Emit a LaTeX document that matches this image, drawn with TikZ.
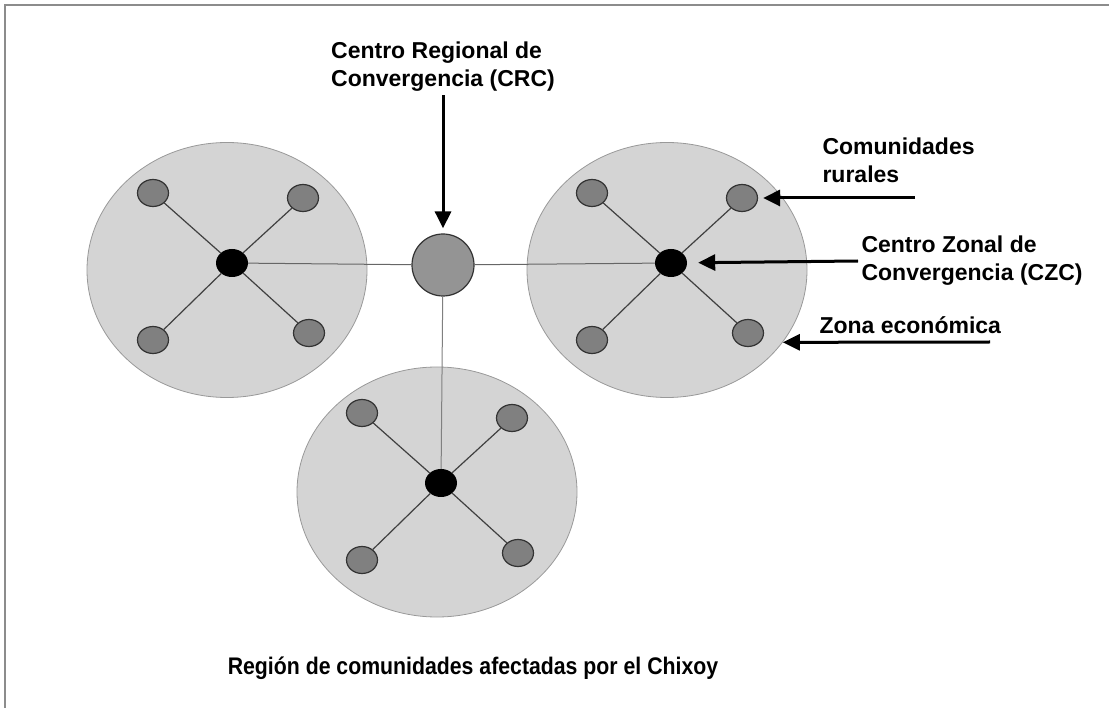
\documentclass[tikz,border=0pt]{standalone}
\usepackage{fontspec}
\setmainfont{Liberation Sans}
\newfontfamily\titlefont[FakeStretch=0.886]{Liberation Sans}
\usepackage{tikz}
\usetikzlibrary{arrows.meta,positioning,shapes.geometric}
\tikzset{
    zona/.style={
        ellipse,
        draw=black!40, line width=0.8pt,
        fill=black!17,
        minimum width=280pt,
        minimum height=255pt
    },
    czc/.style={
        ellipse,
        fill=black,
        inner sep=0pt,
        minimum width=32pt,
        minimum height=28pt
    },
    comunidad/.style={
        ellipse,
        draw=black!80, line width=1.2pt,
        fill=black!50,
        inner sep=0pt,
        minimum width=31pt,
        minimum height=27pt
    },
    crc/.style={
        circle,
        draw=black!80, line width=1.2pt,
        fill=black!42,
        inner sep=0pt,
        minimum size=62pt
    },
    enlace/.style={draw=black!75, line width=1.2pt},
    union/.style={draw=black!60, line width=1pt},
    flecha/.style={draw, line width=3pt, ->},
    etiqueta/.style={
        font={\bfseries\fontsize{23}{28}\selectfont},
        align=left
    },
    titulo/.style={font={\titlefont\bfseries\fontsize{24}{28}\selectfont}},
    marco/.style={draw=black!45, line width=2pt},
}

\begin{document}
\begin{tikzpicture}[x=1pt, y=-1pt, >={Triangle[length=17pt,width=16pt]}]

\useasboundingbox (0,0) rectangle (1109,708);
\draw [marco] (5,708) -- (5,5) -- (1109,5);

% zonas economicas
\node [zona] (zona-1) at (227,270) {};
\node [zona] (zona-2) at (667,270) {};
\node [zona, minimum height=250pt] (zona-3) at (437,492) {};

% centros zonales y comunidades rurales
\foreach \z/\cx/\cy in {1/232/263, 2/671/263, 3/441/483}
{
  \node [czc] (czc-\z) at (\cx,\cy) {};
  \foreach \dx/\dy [count=\k] in {-79/-70, 71/-65, -79/77, 77/70}
  {
    \node [comunidad] (com-\z-\k) at (\cx+\dx,\cy+\dy) {};
    \draw [enlace] (czc-\z) -- (com-\z-\k);
  }
}

% centro regional
\node [crc] (crc) at (443,265) {};
\draw [union] (czc-1) -- (crc);
\draw [union] (crc) -- (czc-2);
\draw [union, draw=black!50] (crc) -- (czc-3);

% etiquetas
\node [etiqueta] (lbl-crc) at (443,67) {Centro Regional de\\Convergencia (CRC)};
\node [etiqueta, anchor=west] (lbl-rur) at (819,160) {Comunidades\\rurales};
\node [etiqueta, anchor=west] (lbl-czc) at (858,261) {Centro Zonal de\\Convergencia (CZC)};
\node [etiqueta, anchor=west] (lbl-zona) at (816,325) {Zona económica};

\coordinate (ini-rur) at (915,198);
\coordinate (ini-zona) at (990,342);

\draw [flecha, shorten >=5pt] (lbl-crc.south -| crc) -- (crc);
\draw [flecha, shorten >=5pt] (ini-rur) -- (com-2-2.east);
\draw [flecha, shorten >=11pt] (lbl-czc.west) -- (czc-2);
\draw [flecha] (ini-zona) -- (zona-2.-32);

\node [titulo] (titulo) at (473,668) {Región de comunidades afectadas por el Chixoy};

\end{tikzpicture}
\end{document}
